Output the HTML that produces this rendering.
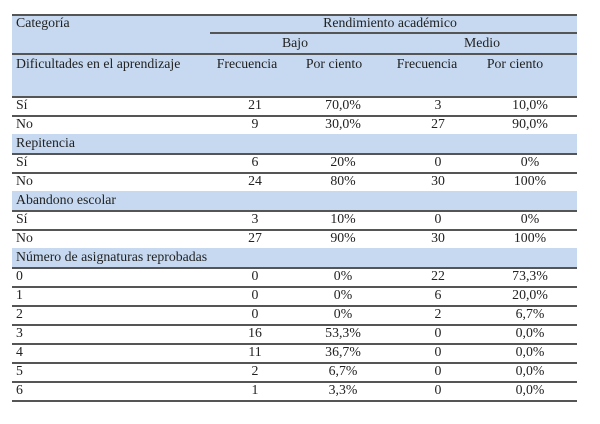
<!DOCTYPE html>
<html><head><meta charset="utf-8"><style>
body{margin:0;width:600px;height:424px;background:#fff;position:relative;font-family:"Liberation Serif",serif;font-size:13.8px;color:#222;overflow:hidden}
.a{position:absolute;white-space:nowrap}
.bg{position:absolute;left:12px;width:565px;background:#c6d9f0}
.ln{position:absolute;height:1.5px;background:#555}
.c{position:absolute;transform:translateX(-50%);white-space:nowrap}
</style></head><body>
<div class="bg" style="top:14px;height:82px"></div>
<div class="ln" style="left:12px;width:565px;top:14px"></div>
<div class="ln" style="left:210px;width:367px;top:32px"></div>
<div class="ln" style="left:12px;width:565px;top:53px"></div>
<div class="ln" style="left:12px;width:565px;top:96px"></div>
<div class="a" style="left:16px;top:15px">Categoría</div>
<div class="c" style="left:390px;top:15px">Rendimiento académico</div>
<div class="c" style="left:295px;top:35px">Bajo</div>
<div class="c" style="left:482px;top:35px">Medio</div>
<div class="a" style="left:16px;top:56px">Dificultades en el aprendizaje</div>
<div class="c" style="left:247px;top:56px">Frecuencia</div>
<div class="c" style="left:334px;top:56px">Por ciento</div>
<div class="c" style="left:427px;top:56px">Frecuencia</div>
<div class="c" style="left:515px;top:56px">Por ciento</div>
<div id="rows"></div>
<script>
const labels=["Sí","No","Repitencia","Sí","No","Abandono escolar","Sí","No","Número de asignaturas reprobadas","0","1","2","3","4","5","6"];
const bajoFreq=["21","9",null,"6","24",null,"3","27",null,"0","0","0","16","11","2","1"];
const bajoPct=["70,0%","30,0%",null,"20%","80%",null,"10%","90%",null,"0%","0%","0%","53,3%","36,7%","6,7%","3,3%"];
const medioFreq=["3","27",null,"0","30",null,"0","30",null,"22","6","2","0","0","0","0"];
const medioPct=["10,0%","90,0%",null,"0%","100%",null,"0%","100%",null,"73,3%","20,0%","6,7%","0,0%","0,0%","0,0%","0,0%"];
const root=document.getElementById('rows');
labels.forEach((lab,i)=>{
  const y=96+i*19;
  const sec=bajoFreq[i]===null;
  if(sec){
    const bg=document.createElement('div');bg.className='bg';bg.style.top=y+'px';bg.style.height='19px';
    
    
    root.appendChild(bg);
  }
  const ln=document.createElement('div');ln.className='ln';ln.style.left='12px';ln.style.width='565px';ln.style.top=(y+19)+'px';
  
  
  root.appendChild(ln);
  const t=document.createElement('div');t.className='a';t.style.left='16px';t.style.top=(y+1)+'px';t.textContent=lab;
  
  
  root.appendChild(t);
  if(!sec){
    [[bajoFreq,255],[bajoPct,343],[medioFreq,438],[medioPct,530]].forEach(([arr,x],k)=>{
      const c=document.createElement('div');c.className='c';c.style.left=x+'px';c.style.top=(y+1)+'px';c.textContent=arr[i];
      
      
      root.appendChild(c);
    });
  }
});
</script>
</body></html>
